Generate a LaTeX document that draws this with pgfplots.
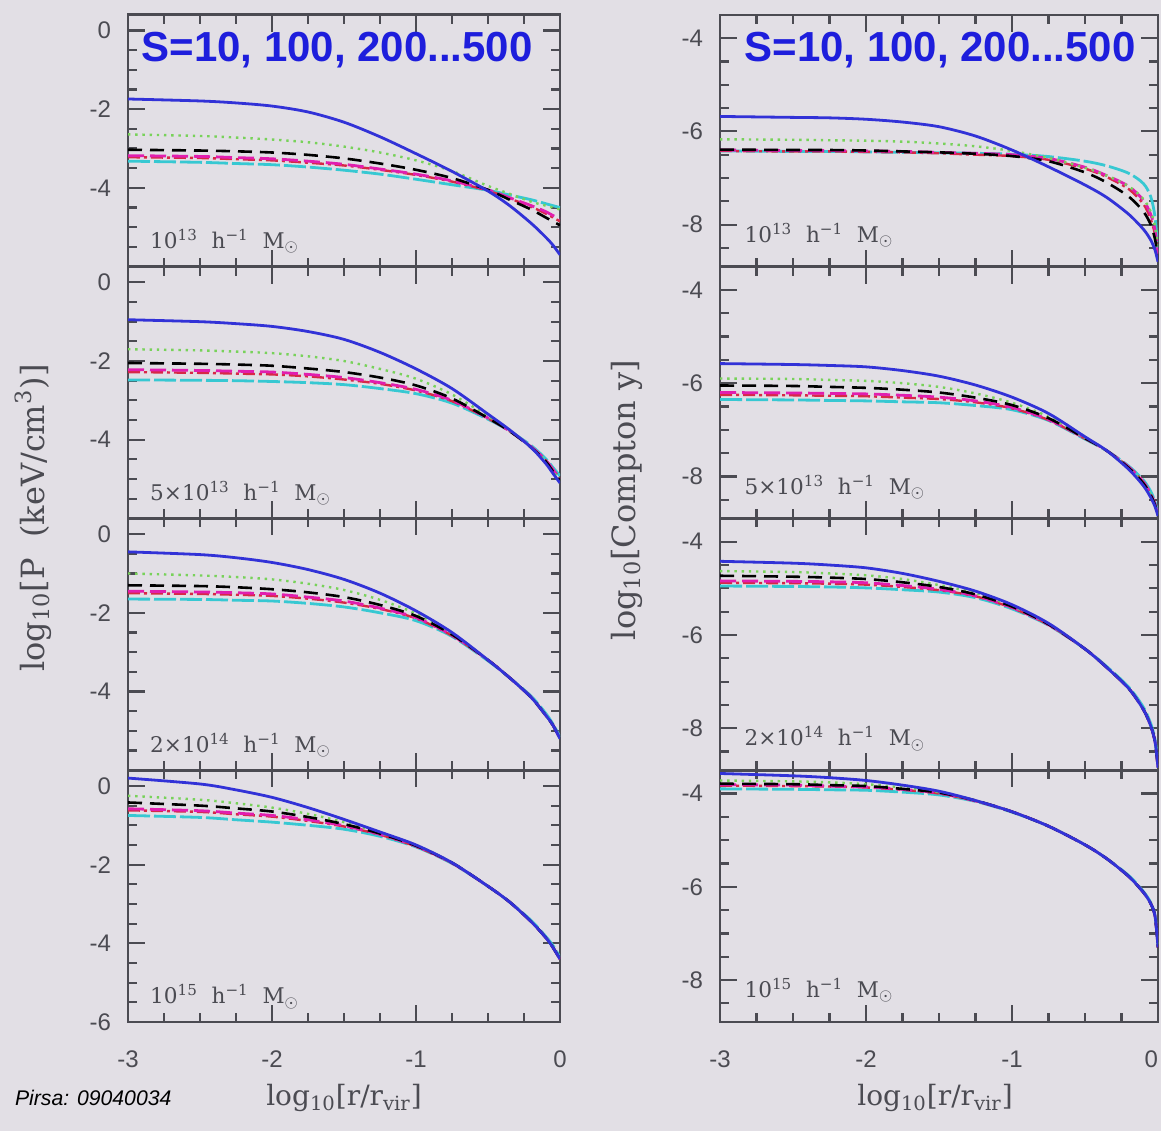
\documentclass[border=0pt]{standalone}
\usepackage{pgfplots}
\pgfplotsset{compat=1.18}
\usepackage{pgfplotstable}
\usepackage{fontspec}
\setmainfont{DejaVu Serif}
\newfontfamily\arial{Liberation Sans}

\definecolor{bg}{RGB}{226,223,229}
\definecolor{frame}{RGB}{75,75,82}
\definecolor{cblue}{RGB}{50,50,215}
\definecolor{cgreen}{RGB}{120,210,90}
\definecolor{cmag}{RGB}{225,30,175}
\definecolor{cred}{RGB}{215,40,70}
\definecolor{ccyan}{RGB}{55,200,210}
\definecolor{sblue}{RGB}{30,30,220}

% pressure panels (left), columns: S=10 (b), 100 (g), 200 (k), 300 (m), 400 (r), 500 (c)
\pgfplotstableread{
x     b     g     k     m     r     c
-3    -1.74 -2.64 -3.03 -3.18 -3.22 -3.32
-2.5  -1.79 -2.68 -3.05 -3.20 -3.24 -3.35
-2.25 -1.84 -2.72 -3.07 -3.23 -3.27 -3.38
-2    -1.92 -2.77 -3.10 -3.26 -3.30 -3.41
-1.75 -2.07 -2.84 -3.16 -3.32 -3.36 -3.47
-1.5  -2.33 -2.95 -3.25 -3.40 -3.43 -3.55
-1.25 -2.70 -3.10 -3.38 -3.52 -3.54 -3.65
-1    -3.13 -3.30 -3.54 -3.65 -3.67 -3.78
-0.75 -3.58 -3.57 -3.75 -3.82 -3.84 -3.92
-0.5  -4.08 -3.95 -4.05 -4.05 -4.07 -4.06
-0.35 -4.45 -4.15 -4.30 -4.25 -4.27 -4.18
-0.2  -4.90 -4.35 -4.55 -4.45 -4.48 -4.30
-0.1  -5.25 -4.45 -4.75 -4.60 -4.65 -4.40
-0.05 -5.45 -4.50 -4.85 -4.70 -4.75 -4.45
0     -5.70 -4.55 -4.95 -4.78 -4.85 -4.50
}\tLa
\pgfplotstableread{
x     b     g     k     m     r     c
-3    -0.95 -1.70 -2.05 -2.22 -2.28 -2.48
-2.5  -1.00 -1.73 -2.07 -2.24 -2.30 -2.49
-2.25 -1.05 -1.76 -2.09 -2.26 -2.32 -2.50
-2    -1.12 -1.80 -2.12 -2.28 -2.34 -2.52
-1.75 -1.25 -1.88 -2.19 -2.34 -2.39 -2.55
-1.5  -1.45 -2.00 -2.28 -2.42 -2.47 -2.60
-1.25 -1.78 -2.20 -2.42 -2.55 -2.58 -2.70
-1    -2.20 -2.45 -2.62 -2.72 -2.75 -2.83
-0.75 -2.70 -2.85 -2.95 -3.00 -3.02 -3.07
-0.5  -3.35 -3.40 -3.45 -3.45 -3.46 -3.48
-0.35 -3.75 -3.75 -3.78 -3.78 -3.78 -3.78
-0.2  -4.20 -4.20 -4.20 -4.18 -4.18 -4.15
-0.1  -4.60 -4.55 -4.55 -4.52 -4.52 -4.48
-0.05 -4.85 -4.80 -4.80 -4.75 -4.75 -4.70
0     -5.10 -5.05 -5.05 -5.00 -4.98 -4.92
}\tLb
\pgfplotstableread{
x     b     g     k     m     r     c
-3    -0.45 -1.00 -1.30 -1.45 -1.50 -1.65
-2.5  -0.52 -1.05 -1.32 -1.47 -1.52 -1.66
-2.25 -0.60 -1.09 -1.35 -1.49 -1.54 -1.68
-2    -0.72 -1.15 -1.40 -1.52 -1.57 -1.70
-1.75 -0.90 -1.26 -1.48 -1.60 -1.64 -1.76
-1.5  -1.15 -1.42 -1.60 -1.70 -1.74 -1.85
-1.25 -1.50 -1.67 -1.80 -1.88 -1.90 -2.00
-1    -1.95 -2.02 -2.08 -2.12 -2.14 -2.20
-0.75 -2.50 -2.52 -2.55 -2.57 -2.58 -2.60
-0.5  -3.20 -3.20 -3.20 -3.20 -3.20 -3.22
-0.35 -3.65 -3.65 -3.65 -3.65 -3.65 -3.65
-0.2  -4.15 -4.15 -4.15 -4.15 -4.15 -4.12
-0.1  -4.60 -4.60 -4.60 -4.60 -4.60 -4.55
-0.05 -4.85 -4.85 -4.85 -4.85 -4.85 -4.82
0     -5.20 -5.20 -5.20 -5.20 -5.20 -5.15
}\tLc
\pgfplotstableread{
x     b     g     k     m     r     c
-3     0.20 -0.25 -0.42 -0.58 -0.62 -0.75
-2.5   0.05 -0.35 -0.50 -0.63 -0.66 -0.80
-2.25 -0.10 -0.44 -0.57 -0.69 -0.72 -0.86
-2    -0.29 -0.55 -0.65 -0.75 -0.78 -0.92
-1.75 -0.55 -0.71 -0.79 -0.86 -0.89 -1.00
-1.5  -0.85 -0.92 -0.97 -1.01 -1.03 -1.10
-1.25 -1.17 -1.19 -1.21 -1.23 -1.24 -1.28
-1    -1.50 -1.50 -1.52 -1.53 -1.54 -1.55
-0.75 -1.95 -1.95 -1.95 -1.96 -1.96 -1.97
-0.5  -2.55 -2.55 -2.55 -2.55 -2.55 -2.55
-0.35 -2.95 -2.95 -2.95 -2.95 -2.95 -2.95
-0.2  -3.45 -3.45 -3.45 -3.45 -3.45 -3.42
-0.1  -3.85 -3.85 -3.85 -3.85 -3.85 -3.82
-0.05 -4.10 -4.10 -4.10 -4.10 -4.10 -4.05
0     -4.40 -4.40 -4.40 -4.40 -4.40 -4.35
}\tLd

% Compton y panels (right)
\pgfplotstableread{
x     b     g     k     m     r     c
-3    -5.68 -6.17 -6.39 -6.40 -6.42 -6.42
-2.5  -5.70 -6.18 -6.40 -6.41 -6.43 -6.43
-2.25 -5.71 -6.19 -6.40 -6.41 -6.43 -6.43
-2    -5.74 -6.20 -6.41 -6.42 -6.44 -6.44
-1.75 -5.80 -6.22 -6.43 -6.43 -6.45 -6.45
-1.5  -5.90 -6.26 -6.45 -6.45 -6.47 -6.46
-1.25 -6.10 -6.32 -6.48 -6.47 -6.50 -6.47
-1    -6.40 -6.42 -6.53 -6.50 -6.53 -6.49
-0.75 -6.76 -6.57 -6.64 -6.58 -6.61 -6.54
-0.5  -7.15 -6.78 -6.88 -6.77 -6.80 -6.64
-0.35 -7.42 -6.95 -7.10 -6.95 -6.98 -6.74
-0.2  -7.78 -7.18 -7.40 -7.18 -7.24 -6.90
-0.1  -8.10 -7.45 -7.72 -7.48 -7.56 -7.12
-0.05 -8.33 -7.72 -8.00 -7.78 -7.88 -7.40
-0.02 -8.55 -8.05 -8.32 -8.12 -8.22 -7.85
0     -8.80 -8.55 -8.75 -8.62 -8.68 -8.60
}\tRa
\pgfplotstableread{
x     b     g     k     m     r     c
-3    -5.58 -5.90 -6.05 -6.20 -6.25 -6.35
-2.5  -5.60 -5.91 -6.06 -6.21 -6.26 -6.36
-2.25 -5.62 -5.93 -6.08 -6.22 -6.27 -6.37
-2    -5.65 -5.95 -6.10 -6.23 -6.28 -6.38
-1.75 -5.73 -6.00 -6.14 -6.26 -6.31 -6.40
-1.5  -5.85 -6.08 -6.20 -6.30 -6.34 -6.42
-1.25 -6.04 -6.22 -6.31 -6.38 -6.41 -6.48
-1    -6.30 -6.42 -6.47 -6.52 -6.54 -6.57
-0.75 -6.65 -6.72 -6.75 -6.78 -6.79 -6.80
-0.5  -7.15 -7.17 -7.18 -7.18 -7.19 -7.20
-0.35 -7.45 -7.45 -7.45 -7.45 -7.45 -7.45
-0.2  -7.85 -7.82 -7.82 -7.80 -7.80 -7.78
-0.1  -8.20 -8.15 -8.15 -8.12 -8.12 -8.08
-0.05 -8.45 -8.40 -8.40 -8.38 -8.38 -8.32
-0.02 -8.65 -8.62 -8.62 -8.60 -8.60 -8.55
0     -8.85 -8.85 -8.85 -8.85 -8.85 -8.80
}\tRb
\pgfplotstableread{
x     b     g     k     m     r     c
-3    -4.42 -4.63 -4.73 -4.84 -4.88 -4.95
-2.5  -4.46 -4.65 -4.75 -4.85 -4.89 -4.96
-2.25 -4.50 -4.68 -4.77 -4.86 -4.90 -4.97
-2    -4.56 -4.72 -4.80 -4.88 -4.92 -4.99
-1.75 -4.68 -4.80 -4.87 -4.94 -4.97 -5.03
-1.5  -4.85 -4.93 -4.97 -5.02 -5.04 -5.08
-1.25 -5.06 -5.10 -5.13 -5.16 -5.17 -5.20
-1    -5.35 -5.38 -5.39 -5.41 -5.42 -5.44
-0.75 -5.75 -5.76 -5.77 -5.78 -5.78 -5.79
-0.5  -6.30 -6.30 -6.30 -6.30 -6.30 -6.30
-0.35 -6.70 -6.70 -6.70 -6.70 -6.70 -6.68
-0.2  -7.15 -7.15 -7.15 -7.15 -7.15 -7.12
-0.1  -7.60 -7.60 -7.60 -7.60 -7.60 -7.55
-0.05 -7.95 -7.95 -7.95 -7.95 -7.95 -7.90
-0.02 -8.30 -8.30 -8.30 -8.30 -8.30 -8.25
0     -8.85 -8.85 -8.85 -8.85 -8.85 -8.80
}\tRc
\pgfplotstableread{
x     b     g     k     m     r     c
-3    -3.57 -3.72 -3.79 -3.81 -3.83 -3.90
-2.5  -3.62 -3.74 -3.80 -3.82 -3.84 -3.91
-2.25 -3.66 -3.76 -3.82 -3.84 -3.85 -3.92
-2    -3.72 -3.80 -3.84 -3.86 -3.87 -3.93
-1.75 -3.82 -3.87 -3.90 -3.91 -3.92 -3.97
-1.5  -3.95 -3.97 -3.98 -3.99 -4.00 -4.03
-1.25 -4.15 -4.15 -4.15 -4.16 -4.16 -4.17
-1    -4.39 -4.39 -4.39 -4.39 -4.39 -4.40
-0.75 -4.70 -4.70 -4.70 -4.70 -4.70 -4.70
-0.5  -5.10 -5.10 -5.10 -5.10 -5.10 -5.10
-0.35 -5.40 -5.40 -5.40 -5.40 -5.40 -5.40
-0.2  -5.78 -5.78 -5.78 -5.78 -5.78 -5.76
-0.1  -6.12 -6.12 -6.12 -6.12 -6.12 -6.10
-0.05 -6.36 -6.36 -6.36 -6.36 -6.36 -6.34
-0.02 -6.64 -6.64 -6.64 -6.64 -6.64 -6.62
0     -7.30 -7.30 -7.30 -7.30 -7.30 -7.28
}\tRd

\newcommand{\plotsix}[1]{%
  \addplot[smooth, ccyan, line width=1.4pt, dash pattern=on 11pt off 2pt] table[x=x,y=c]{#1};
  \addplot[smooth, cred, line width=1.2pt, dash pattern=on 6pt off 2pt on 1.5pt off 2pt] table[x=x,y=r]{#1};
  \addplot[smooth, cmag, line width=1.4pt, dash pattern=on 8pt off 3pt] table[x=x,y=m]{#1};
  \addplot[smooth, cgreen, line width=1.2pt, dash pattern=on 1.2pt off 2.4pt] table[x=x,y=g]{#1};
  \addplot[smooth, black, line width=1.3pt, dash pattern=on 7pt off 4pt] table[x=x,y=k]{#1};
  \addplot[smooth, cblue, line width=1.4pt] table[x=x,y=b]{#1};
}
\newcommand{\mass}[1]{{\fontsize{10.8}{12}\selectfont\color{frame}#1\ \ h\textsuperscript{−1}\ \ M$_\odot$}}
\newcommand{\sbig}{{\arial\bfseries\fontsize{21}{24}\selectfont\color{sblue}S=10, 100, 200...500}}

\pgfplotsset{
  panel/.style={
    scale only axis, anchor=south west, height=125.9pt,
    xmin=-3, xmax=0,
    axis line style={draw=frame, line width=1.3pt},
    tick align=inside,
    every major tick/.style={draw=frame, line width=1.1pt},
    every minor tick/.style={draw=frame, line width=1.1pt},
    major tick length=8.5pt, minor tick length=4.5pt,
    xtick={-3,-2,-1,0},
    minor xtick={-2.75,-2.5,-2.25,-1.75,-1.5,-1.25,-0.75,-0.5,-0.25},
    xminorticks=true, yminorticks=true,
    xticklabels={,,,},
    tick label style={font=\arial\fontsize{12}{14}\selectfont, text=frame},
    xticklabel style={yshift=-11pt},
    yticklabel style={xshift=-5pt},
  },
  lpanel/.style={panel, width=216pt, ymin=-6, ymax=0.4,
    ytick={-6,-4,-2,0}, yticklabels={,-4,-2,0},
    minor ytick={-5.5,-5,-4.5,-3.5,-3,-2.5,-1.5,-1,-0.5}},
  rpanel/.style={panel, width=219pt, ymin=-8.9, ymax=-3.5,
    ytick={-8,-6,-4}, yticklabels={-8,-6,-4},
    minor ytick={-8.5,-7.5,-7,-6.5,-5.5,-5,-4.5}},
}

\begin{document}
\begin{tikzpicture}
\fill[bg] (0,0) rectangle (580.5pt,565.5pt);
\useasboundingbox (0,0) rectangle (580.5pt,565.5pt);
\clip (0,0) rectangle (580.5pt,565.5pt);

% left column: pressure
\begin{axis}[lpanel, at={(64pt,432.2pt)}]
  \plotsix{\tLa}
  \node[anchor=west] at (rel axis cs:0.015,0.86) {\sbig};
  \node[anchor=west] at (rel axis cs:0.035,0.1) {\mass{10\textsuperscript{13}}};
\end{axis}
\begin{axis}[lpanel, at={(64pt,306.3pt)}]
  \plotsix{\tLb}
  \node[anchor=west] at (rel axis cs:0.035,0.1) {\mass{5×10\textsuperscript{13}}};
\end{axis}
\begin{axis}[lpanel, at={(64pt,180.4pt)}]
  \plotsix{\tLc}
  \node[anchor=west] at (rel axis cs:0.035,0.1) {\mass{2×10\textsuperscript{14}}};
\end{axis}
\begin{axis}[lpanel, at={(64pt,54.5pt)}, yticklabels={-6,-4,-2,0}, xticklabels={-3,-2,-1,0}]
  \plotsix{\tLd}
  \node[anchor=west] at (rel axis cs:0.035,0.1) {\mass{10\textsuperscript{15}}};
\end{axis}

% right column: Compton y
\begin{axis}[rpanel, at={(360pt,432.2pt)}]
  \plotsix{\tRa}
  \node[anchor=west] at (rel axis cs:0.04,0.86) {\sbig};
  \node[anchor=west] at (rel axis cs:0.04,0.125) {\mass{10\textsuperscript{13}}};
\end{axis}
\begin{axis}[rpanel, at={(360pt,306.3pt)}]
  \plotsix{\tRb}
  \node[anchor=west] at (rel axis cs:0.04,0.125) {\mass{5×10\textsuperscript{13}}};
\end{axis}
\begin{axis}[rpanel, at={(360pt,180.4pt)}]
  \plotsix{\tRc}
  \node[anchor=west] at (rel axis cs:0.04,0.125) {\mass{2×10\textsuperscript{14}}};
\end{axis}
\begin{axis}[rpanel, at={(360pt,54.5pt)}, xticklabels={-3,-2,-1,\makebox[0pt][r]{0}}]
  \plotsix{\tRd}
  \node[anchor=west] at (rel axis cs:0.04,0.125) {\mass{10\textsuperscript{15}}};
\end{axis}

% axis titles
\node[rotate=90, text=frame, font=\fontsize{16}{18}\selectfont] at (16.5pt,306.5pt)
  {log\textsubscript{10}[P\ \ (keV/cm\textsuperscript{3})]};
\node[rotate=90, text=frame, font=\fontsize{16}{18}\selectfont] at (313.5pt,315.5pt)
  {log\textsubscript{10}[Compton y]};
\node[text=frame, font=\fontsize{14}{16}\selectfont] at (172pt,16.5pt)
  {log\textsubscript{10}[r/r\textsubscript{vir}]};
\node[text=frame, font=\fontsize{14}{16}\selectfont] at (467.5pt,16.5pt)
  {log\textsubscript{10}[r/r\textsubscript{vir}]};
\node[anchor=west, font=\arial\itshape\fontsize{10.6}{12}\selectfont] at (4pt,16.5pt)
  {Pirsa: 09040034};
\end{tikzpicture}
\end{document}
